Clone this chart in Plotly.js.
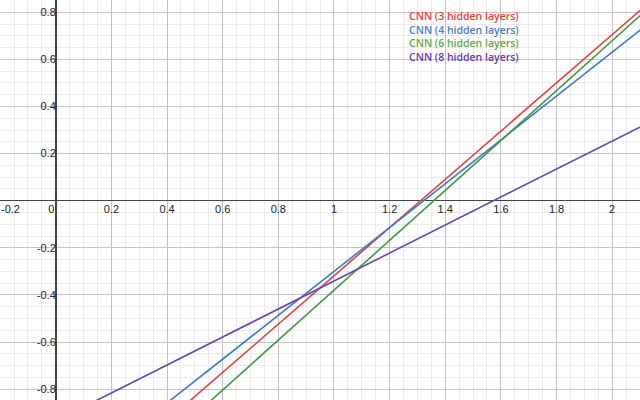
<!DOCTYPE html>
<html>
<head>
<meta charset="utf-8">
<script src="https://cdn.plot.ly/plotly-3.0.1.min.js"></script>
<style>
  html, body { margin: 0; padding: 0; background: #fff; }
  #chart { width: 640px; height: 400px; }
</style>
</head>
<body>
<div id="chart"></div>
<script>

// series names and colours
var seriesNames = ["CNN (3 hidden layers)", "CNN (4 hidden layers)", "CNN (6 hidden layers)", "CNN (8 hidden layers)"];
var seriesColors = ["#dc433e", "#3b7bc4", "#44974b", "#6a45ae"];
var legendColors = ["#e63d38", "#4a7cc2", "#5fa64c", "#6a38a8"];

// each line at two x positions
var lineX = [0, 2.2];
var cnn3Y = [-1.343, 0.910];
var cnn4Y = [-1.231, 0.817];
var cnn6Y = [-1.439, 0.891];
var cnn8Y = [-0.935, 0.372];

// tick labels (the -0.2 one sits on the left edge, drawn as a note so it stays inside)
var xTickVals = [-0.2, 0, 0.2, 0.4, 0.6, 0.8, 1, 1.2, 1.4, 1.6, 1.8, 2];
var xTickText = ["", "0\u00a0\u00a0\u00a0", "0.2", "0.4", "0.6", "0.8", "1", "1.2", "1.4", "1.6", "1.8", "2"];
var edgeLabel = "-0.2";
var yTickVals = [-0.8, -0.6, -0.4, -0.2, 0.2, 0.4, 0.6, 0.8];
var yTickText = ["-0.8", "-0.6", "-0.4", "-0.2", "0.2", "0.4", "0.6", "0.8"];

var xRange = [-0.2005, 2.1];
var yRange = [-0.846, 0.852];

function drawPlot(place)
    {

    var allY = [cnn3Y, cnn4Y, cnn6Y, cnn8Y];
    var traces = [];

    for (var i = 0; i < allY.length; i++) {
        traces.push({
            x: lineX,
            y: allY[i],
            type: "scatter",
            mode: "lines",
            name: seriesNames[i],
            line: {color: seriesColors[i], width: 1.6},
            hoverinfo: "skip"
        });
    }

    var tickFont = {family: "Liberation Sans Narrow, Liberation Sans, Arial, sans-serif", size: 11, color: "#222"};

    // legend as coloured text lines in one block, top right
    var legendLines = [];
    for (var j = 0; j < seriesNames.length; j++) {
        legendLines.push('<span style="color:' + legendColors[j] + '">' + seriesNames[j] + '</span>');
    }
    var notes = [{
        text: legendLines.join("<br>"),
        align: "left",
        xref: "paper", yref: "paper",
        x: 408 / 640, y: 1 - 8 / 400,
        xanchor: "left", yanchor: "top",
        showarrow: false,
        borderpad: 0,
        font: {family: "Open Sans, sans-serif", size: 10.5, weight: 600, color: legendColors[0]}
    }, {
        text: edgeLabel,
        xref: "x", yref: "y",
        x: xTickVals[0], y: 0,
        xanchor: "left", yanchor: "top",
        yshift: -1,
        showarrow: false,
        borderpad: 0,
        font: tickFont
    }];

    var layout = {
        width: 640,
        height: 400,
        margin: {l: 0, r: 0, t: 0, b: 0},
        paper_bgcolor: "#ffffff",
        plot_bgcolor: "#ffffff",
        showlegend: false,
        annotations: notes,
        xaxis: {
            range: xRange,
            tickmode: "array",
            tickvals: xTickVals,
            ticktext: xTickText,
            ticks: "",
            tickfont: tickFont,
            ticklabeloverflow: "allow",
            showgrid: true,
            gridcolor: "#c4c4c4",
            gridwidth: 1,
            minor: {dtick: 0.05, tick0: 0, showgrid: true, gridcolor: "#ebebeb", gridwidth: 1},
            zeroline: true,
            zerolinecolor: "#444",
            zerolinewidth: 1.5,
            showline: false,
            anchor: "free",
            position: (0 - yRange[0]) / (yRange[1] - yRange[0])
        },
        yaxis: {
            range: yRange,
            tickmode: "array",
            tickvals: yTickVals,
            ticktext: yTickText,
            ticks: "",
            tickfont: tickFont,
            ticklabeloverflow: "allow",
            showgrid: true,
            gridcolor: "#c4c4c4",
            gridwidth: 1,
            minor: {dtick: 0.05, tick0: 0, showgrid: true, gridcolor: "#ebebeb", gridwidth: 1},
            zeroline: true,
            zerolinecolor: "#444",
            zerolinewidth: 1.5,
            showline: false,
            anchor: "free",
            position: (0 - xRange[0]) / (xRange[1] - xRange[0])
        }
    };

    Plotly.newPlot(place, traces, layout, {staticPlot: true});

    }

drawPlot("chart");

</script>
</body>
</html>
